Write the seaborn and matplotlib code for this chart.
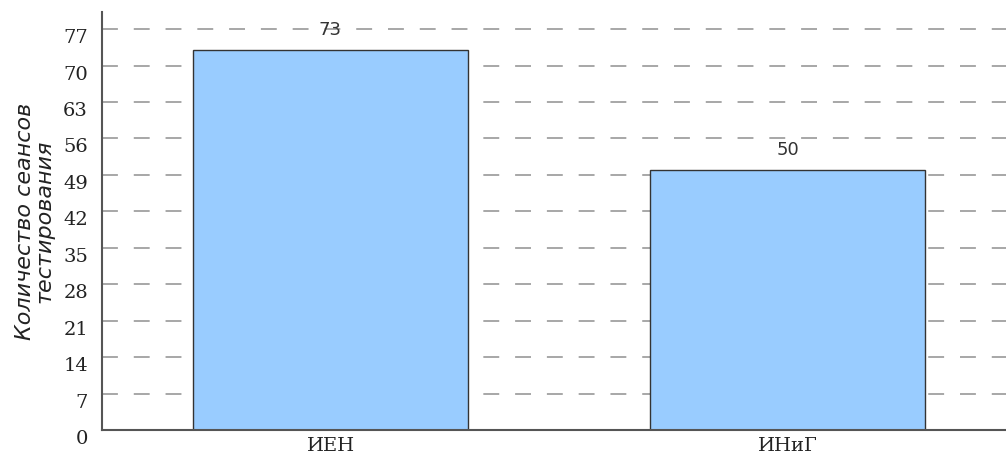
import matplotlib
matplotlib.use('Agg')
import matplotlib.pyplot as plt
import matplotlib.transforms as mtransforms
import seaborn as sns
import pandas as pd

# Data
institutes = ['ИЕН', 'ИНиГ']
sessions = [73, 50]
y_ticks = list(range(0, 78, 7))

df = pd.DataFrame({'Институт': institutes, 'Сеансы': sessions})

sns.set_style('white')

fig = plt.figure(figsize=(10.06, 4.57), dpi=100)
ax = fig.add_axes([102 / 1006, 27 / 457, 914 / 1006, 418 / 457])

barplot = sns.barplot(data=df, x='Институт', y='Сеансы', color='#99ccff',
                      saturation=1, width=0.6, edgecolor='#333333',
                      linewidth=1, ax=ax, zorder=2)

# Value labels on top of bars
for p in barplot.patches:
    barplot.annotate(format(p.get_height(), '.0f'),
                     (p.get_x() + p.get_width() / 2., p.get_height()),
                     ha='center', va='bottom', xytext=(0, 8),
                     textcoords='offset points', fontsize=13,
                     color='#333333', family='DejaVu Sans')

ax.set_xlim(-0.5, 1.5)
ax.set_ylim(0, max(sessions) * 1.1)
ax.set_yticks(y_ticks)
ax.yaxis.grid(True, color='#a0a0a0', linestyle=(0, (8.8, 8.8)), linewidth=1.3, zorder=0)
ax.set_axisbelow(True)

ax.tick_params(axis='both', length=0, labelsize=14, colors='#222222')
ax.tick_params(axis='y', pad=10)
ax.tick_params(axis='x', pad=5)
shift = mtransforms.ScaledTranslation(0, -7 / 100, fig.dpi_scale_trans)
for lab in ax.get_yticklabels():
    lab.set_family('DejaVu Serif')
    lab.set_transform(lab.get_transform() + shift)
for lab in ax.get_xticklabels():
    lab.set_family('DejaVu Serif')

ax.set_xlabel('')
ax.set_ylabel('Количество сеансов\nтестирования', fontsize=16, style='italic',
              family='DejaVu Sans', color='#222222', linespacing=1.0, labelpad=6)

for s in ['top', 'right']:
    ax.spines[s].set_visible(False)
for s in ['left', 'bottom']:
    ax.spines[s].set_color('#555555')
    ax.spines[s].set_linewidth(1.5)

plt.savefig('out.png', dpi=100)
